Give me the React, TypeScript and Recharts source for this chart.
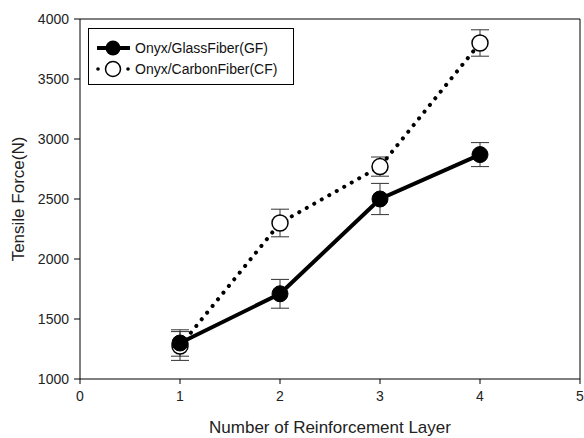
import { LineChart, Line, XAxis, YAxis, ErrorBar, ReferenceLine } from 'recharts';

// values
const layers = [1, 2, 3, 4];
const glassFiber = [1300, 1710, 2500, 2870];
const glassFiberErr = [110, 120, 130, 100];
const carbonFiber = [1275, 2300, 2770, 3800];
const carbonFiberErr = [120, 115, 80, 110];

const xTicks = [0, 1, 2, 3, 4, 5];
const yTicks = [1000, 1500, 2000, 2500, 3000, 3500, 4000];

const data = layers.map((layer, i) => ({
  layer,
  gf: glassFiber[i],
  gfErr: glassFiberErr[i],
  cf: carbonFiber[i],
  cfErr: carbonFiberErr[i],
}));

const FONT = '"Liberation Sans", Arial, sans-serif';
const tickStyle = { fontSize: 14, fill: '#222', fontFamily: FONT };
const titleStyle = { fontSize: 17, fill: '#222', fontFamily: FONT };

// legend drawn as a plain box over the plot, like the original figure
const LegendBox = () => (
  <div
    style={{
      position: 'absolute',
      left: 88,
      top: 28,
      border: '1px solid #000',
      width: 204,
      height: 55,
      background: '#fff',
      fontFamily: FONT,
      fontSize: 14,
      color: '#111',
    }}
  >
    <div style={{ display: 'flex', alignItems: 'center', height: 21, marginTop: 8 }}>
      <svg width={46} height={20}>
        <line x1={8} y1={10} x2={41} y2={10} stroke="#000" strokeWidth={4} />
        <circle cx={24} cy={10} r={7.5} fill="#000" />
      </svg>
      <span>Onyx/GlassFiber(GF)</span>
    </div>
    <div style={{ display: 'flex', alignItems: 'center', height: 21 }}>
      <svg width={46} height={20}>
        <circle cx={9} cy={10} r={1.8} fill="#000" />
        <circle cx={39} cy={10} r={1.8} fill="#000" />
        <circle cx={24} cy={10} r={7.5} fill="#fff" stroke="#000" strokeWidth={1.5} />
      </svg>
      <span>Onyx/CarbonFiber(CF)</span>
    </div>
  </div>
);

export default function App() {
  return (
    <div style={{ position: 'absolute', left: 0, top: 0, width: 584, height: 438, background: '#fff' }}>
      <LineChart width={584} height={438} data={data} margin={{ top: 19, right: 4, left: 0, bottom: 0 }}>
        <XAxis
          dataKey="layer"
          type="number"
          domain={[0, 5]}
          ticks={xTicks}
          tickSize={5}
          tickMargin={7}
          stroke="#000"
          tick={tickStyle}
          height={59}
          label={{
            value: 'Number of Reinforcement Layer',
            position: 'insideBottom',
            offset: 5,
            style: titleStyle,
          }}
        />
        <YAxis
          type="number"
          domain={[1000, 4000]}
          ticks={yTicks}
          tickSize={6}
          tickMargin={5}
          stroke="#000"
          tick={tickStyle}
          width={80}
          label={{
            value: 'Tensile Force(N)',
            angle: -90,
            position: 'insideLeft',
            offset: 18,
            textAnchor: 'middle',
            style: { ...titleStyle, textAnchor: 'middle' },
          }}
        />
        <ReferenceLine y={4000} stroke="#000" />
        <ReferenceLine x={5} stroke="#000" />
        <Line
          dataKey="cf"
          stroke="#000"
          strokeWidth={4}
          strokeDasharray="0.1 8.5"
          strokeLinecap="round"
          dot={{ r: 8, fill: '#fff', stroke: '#000', strokeWidth: 1.5, strokeDasharray: '' }}
          isAnimationActive={false}
        >
          <ErrorBar dataKey="cfErr" direction="y" width={9} stroke="#333" strokeWidth={1} />
        </Line>
        <Line
          dataKey="gf"
          stroke="#000"
          strokeWidth={4}
          dot={{ r: 8, fill: '#000', stroke: '#000', strokeWidth: 1 }}
          isAnimationActive={false}
        >
          <ErrorBar dataKey="gfErr" direction="y" width={9} stroke="#333" strokeWidth={1} />
        </Line>
      </LineChart>
      <LegendBox />
    </div>
  );
}
